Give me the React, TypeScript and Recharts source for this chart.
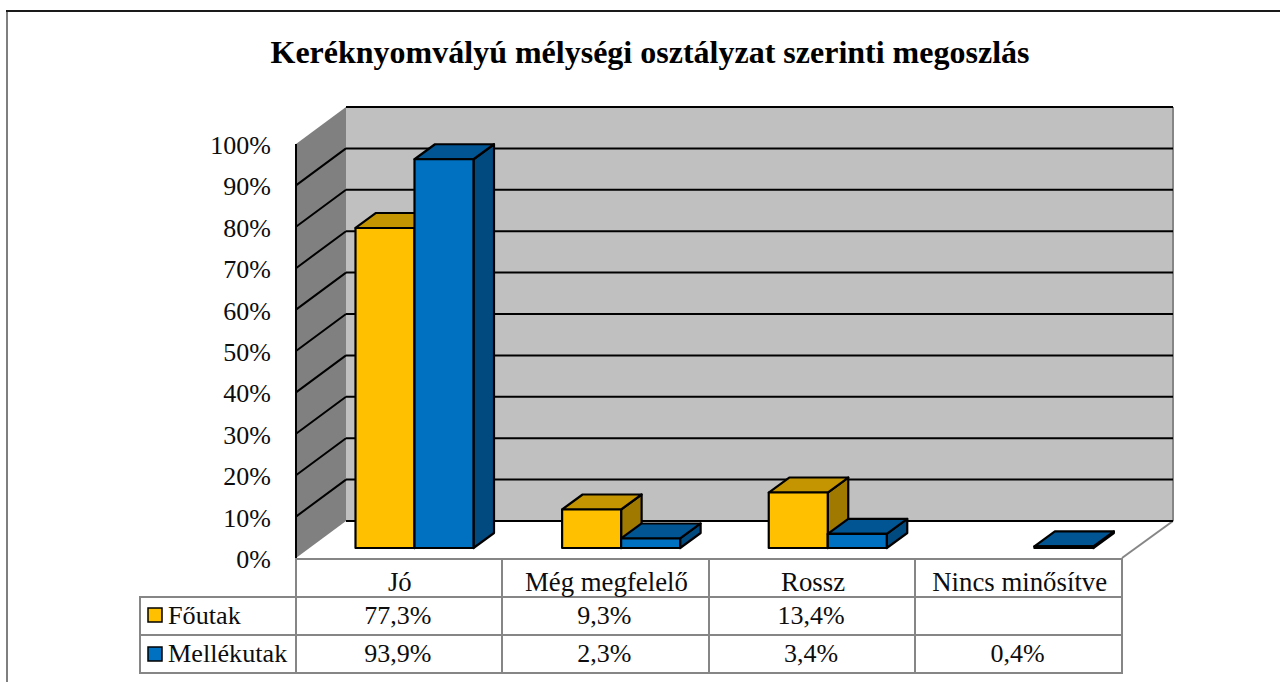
import React from 'react';
import { BarChart, Bar, XAxis, YAxis, CartesianGrid } from 'recharts';

const categories = ['Jó', 'Még megfelelő', 'Rossz', 'Nincs minősítve'];
const seriesNames = ['Főutak', 'Mellékutak'];
const foutak: (number | null)[] = [77.3, 9.3, 13.4, null];
const mellekutak: (number | null)[] = [93.9, 2.3, 3.4, 0.4];
const foutakLabels = ['77,3%', '9,3%', '13,4%', ''];
const mellekutakLabels = ['93,9%', '2,3%', '3,4%', '0,4%'];
const yTicks = [0, 10, 20, 30, 40, 50, 60, 70, 80, 90, 100];
const data = categories.map((name, i) => ({ name, foutak: foutak[i], mellekutak: mellekutak[i] }));

const FONT = '"Liberation Serif", "Times New Roman", serif';
const TEXT = '#0d0d0d';
const W = 1280, H = 682;
const PLOT_L = 311.5, PLOT_R = 1138, PLOT_T = 134, PLOT_B = 548;
const FRONT_X = 296, BACK_X = 346, RIGHT_X = 1173, TABLE_R = 1122;
const FRONT_DY = 10, BACK_DY = -27;
const DX = 20.5, DY = 15;
const GRAY = '#868686';

const Bar3D = (top: string, side: string, front: string) => (p: any) => {
  const { x, y, width, height, value } = p;
  if (value == null) return null;
  const r = x + width, b = y + height;
  const common = { stroke: '#000', strokeWidth: 2.2, strokeLinejoin: 'round' as const };
  return (
    <g>
      <polygon points={`${r},${y} ${r + DX},${y - DY} ${r + DX},${b - DY} ${r},${b}`} fill={side} {...common} />
      <polygon points={`${x},${y} ${x + DX},${y - DY} ${r + DX},${y - DY} ${r},${y}`} fill={top} {...common} />
      <rect x={x} y={y} width={width} height={height} fill={front} {...common} />
    </g>
  );
};

const WallShapes = () => {
  const t = PLOT_T, b = PLOT_B;
  return (
    <g>
      <polygon
        points={`${BACK_X},${t + BACK_DY} ${RIGHT_X},${t + BACK_DY} ${RIGHT_X},${b + BACK_DY} ${BACK_X},${b + BACK_DY}`}
        fill="#c0c0c0"
      />
      <polygon
        points={`${FRONT_X},${t + FRONT_DY} ${BACK_X},${t + BACK_DY} ${BACK_X},${b + BACK_DY} ${FRONT_X},${b + FRONT_DY}`}
        fill="#808080"
      />
      <line x1={RIGHT_X} y1={t + BACK_DY} x2={RIGHT_X} y2={b + BACK_DY} stroke={GRAY} strokeWidth={2} />
      <line x1={RIGHT_X} y1={b + BACK_DY} x2={TABLE_R} y2={b + FRONT_DY} stroke={GRAY} strokeWidth={2} />
      <line x1={FRONT_X} y1={t + FRONT_DY} x2={FRONT_X} y2={b + FRONT_DY} stroke="#000" strokeWidth={2} />
    </g>
  );
};

const gridLine = (p: any) => {
  const y = p.y1;
  const edge = Math.abs(y - PLOT_T) < 0.5 || Math.abs(y - PLOT_B) < 0.5;
  const diag = edge ? '' : `M${FRONT_X},${y + FRONT_DY} L${BACK_X},${y + BACK_DY} `;
  return (
    <g key={`g-${y}`}>
      {p.index === 0 ? <WallShapes /> : null}
      <path
        d={`${diag}M${BACK_X},${y + BACK_DY} L${RIGHT_X},${y + BACK_DY}`}
        stroke="#000"
        strokeWidth={2}
        fill="none"
      />
    </g>
  );
};

const YTick = (p: any) => (
  <text x={271} y={p.y + FRONT_DY + 10} textAnchor="end" fontFamily={FONT} fontSize={26} fill={TEXT}>
    {p.payload.value}%
  </text>
);

const XTick = (p: any) => {
  const i = p.index;
  const cx = p.x - 15;
  const props = { textAnchor: 'middle' as const, fontFamily: FONT, fill: TEXT };
  return (
    <g>
      <text {...props} x={cx} y={591} fontSize={26.8}>{p.payload.value}</text>
      <text {...props} x={cx - 2} y={624} fontSize={26}>{foutakLabels[i]}</text>
      <text {...props} x={cx - 2} y={662} fontSize={26}>{mellekutakLabels[i]}</text>
    </g>
  );
};

const Frame = () => (
  <g>
    <line x1={7} y1={10} x2={7} y2={H} stroke="#7f7f7f" strokeWidth={2} />
    <line x1={6} y1={11} x2={W} y2={11} stroke="#1a1a1a" strokeWidth={2} />
  </g>
);

const colX = [296, 502, 709, 915, 1122];
const rowY = [597, 635, 673];
const legendColors = ['#ffc000', '#0070c0'];

const Table = () => (
  <g>
    <line x1={FRONT_X} y1={559} x2={TABLE_R + 1} y2={559} stroke={GRAY} strokeWidth={2} />
    {colX.map((x) => (
      <line key={x} x1={x} y1={558} x2={x} y2={674} stroke={GRAY} strokeWidth={2} />
    ))}
    {rowY.map((y) => (
      <line key={y} x1={139} y1={y} x2={TABLE_R + 1} y2={y} stroke={GRAY} strokeWidth={2} />
    ))}
    <line x1={140} y1={596} x2={140} y2={674} stroke={GRAY} strokeWidth={2} />
    {seriesNames.map((name, i) => (
      <g key={name}>
        <rect x={148} y={608 + i * 39} width={14} height={14} fill={legendColors[i]} stroke="#000" strokeWidth={1.5} />
        <text x={168} y={624 + i * 38} fontFamily={FONT} fontSize={26.2} fill={TEXT}>{name}</text>
      </g>
    ))}
  </g>
);

export default function App() {
  return (
    <div style={{ position: 'absolute', left: 0, top: 0, width: W, height: H, background: '#fff', overflow: 'hidden' }}>
      <BarChart
        width={W}
        height={H}
        data={data}
        margin={{ left: PLOT_L - 1, right: W - PLOT_R, top: PLOT_T, bottom: H - PLOT_B - 1 }}
        barSize={59}
        barGap={0}
      >
        <Frame />
        <CartesianGrid horizontal={gridLine} vertical={false} syncWithTicks />
        <Table />
        <text x={650} y={63} textAnchor="middle" fontFamily={FONT} fontWeight="bold" fontSize={32} fill="#000">
          Keréknyomvályú mélységi osztályzat szerinti megoszlás
        </text>
        <XAxis dataKey="name" height={1} axisLine={false} tickLine={false} tick={XTick} interval={0} />
        <YAxis width={1} domain={[0, 100]} ticks={yTicks} axisLine={false} tickLine={false} tick={YTick} interval={0} />
        <Bar dataKey="foutak" isAnimationActive={false} shape={Bar3D('#c49500', '#a07a00', '#ffc000')} />
        <Bar dataKey="mellekutak" isAnimationActive={false} shape={Bar3D('#005592', '#004a80', '#0070c0')} />
      </BarChart>
    </div>
  );
}
